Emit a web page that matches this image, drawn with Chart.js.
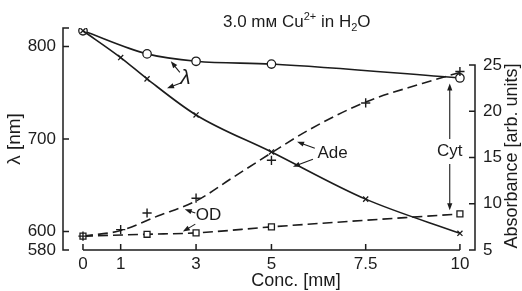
<!DOCTYPE html>
<html><head><meta charset="utf-8">
<script src="https://cdn.jsdelivr.net/npm/chart.js@4"></script>
<style>html,body{margin:0;padding:0;background:#fff}#wrap{width:522px;height:291px}</style>
</head><body><div id="wrap"><canvas id="c" width="522" height="291"></canvas></div>
<script>
// ---- data ----
const concCircle   = [0, 1.7, 3, 5, 10];
const lambdaCircle = [817, 792, 784, 781, 766];
const concCross    = [0, 1, 1.7, 3, 5, 7.5, 10];
const lambdaCross  = [817, 788, 765, 726, 686, 635, 598];
const concPlus     = [0, 1, 1.7, 3, 5, 7.5, 10];
const absPlus      = [6.5, 7.2, 9.0, 10.6, 14.7, 20.9, 24.3];
const concAdeCurve = [0, 1, 2, 3, 4, 5, 6, 7.5, 9, 10];
const absAdeCurve  = [6.5, 7.1, 8.7, 10.3, 12.9, 15.5, 18.0, 21.0, 23.0, 24.2];
const concSquare   = [0, 1.7, 3, 5, 10];
const absSquare    = [6.5, 6.7, 6.85, 7.5, 8.9];
const xTicks       = [0, 1, 3, 5, 7.5, 10];
const xTickLabels  = ['0', '1', '3', '5', '7.5', '10'];
const yTicks       = [580, 600, 700, 800];
const yTickLabels  = ['580', '600', '700', '800'];
const y2Ticks      = [5, 10, 15, 20, 25];
const y2TickLabels = ['5', '10', '15', '20', '25'];

const INK = '#1c1c1c';
const FONT = "'Liberation Sans', Arial, sans-serif";
const pts = (xs, ys) => xs.map((x, i) => ({x, y: ys[i]}));

// annotation placement in data units (x: conc, y: lambda axis)
const notes = {
  lambdaLabel: {x: 2.72, y: 766},
  lambdaArrows: [[2.57, 772, 2.33, 784], [2.63, 761, 2.23, 755]],
  odLabel: {x: 3.33, y: 617},
  odArrows: [[2.98, 620, 2.70, 624], [2.98, 608, 2.65, 600]],
  adeLabel: {x: 6.62, y: 685},
  adeArrows: [[6.15, 690, 5.68, 697], [6.10, 678, 5.57, 670]],
  cytLabel: {x: 9.73, y: 687},
  cytArrows: [[9.73, 700, 9.73, 760], [9.73, 673, 9.73, 623]]
};

function arrow(ctx, x1, y1, x2, y2) {
  const a = Math.atan2(y2 - y1, x2 - x1), L = 7, W = 2.6;
  ctx.beginPath(); ctx.moveTo(x1, y1); ctx.lineTo(x2 - Math.cos(a) * L * 0.6, y2 - Math.sin(a) * L * 0.6); ctx.stroke();
  ctx.beginPath();
  ctx.moveTo(x2, y2);
  ctx.lineTo(x2 - Math.cos(a) * L + Math.sin(a) * W, y2 - Math.sin(a) * L - Math.cos(a) * W);
  ctx.lineTo(x2 - Math.cos(a) * L - Math.sin(a) * W, y2 - Math.sin(a) * L + Math.cos(a) * W);
  ctx.closePath(); ctx.fill();
}

function richText(ctx, x, y, segs) {
  let cx = x;
  ctx.textAlign = 'left'; ctx.textBaseline = 'alphabetic';
  segs.forEach(s => {
    ctx.font = s.size + 'px ' + FONT;
    ctx.fillText(s.t, cx, y + (s.dy || 0));
    cx += ctx.measureText(s.t).width;
  });
}

const decor = {
  id: 'decor',
  beforeDatasetsDraw(chart) {
    const {ctx, scales: {x, y, y2}} = chart;
    ctx.save();
    ctx.strokeStyle = INK; ctx.lineWidth = 1.5; ctx.lineCap = 'butt';
    // left axis (bracket)
    const lx = chart.chartArea.left;
    ctx.beginPath();
    ctx.moveTo(lx + 6, y.getPixelForValue(820)); ctx.lineTo(lx, y.getPixelForValue(820));
    ctx.lineTo(lx, y.getPixelForValue(580)); ctx.lineTo(lx + 6, y.getPixelForValue(580));
    [600, 700, 800].forEach(v => { const py = y.getPixelForValue(v); ctx.moveTo(lx, py); ctx.lineTo(lx + 6, py); });
    ctx.stroke();
    // right axis
    const rx = chart.chartArea.right;
    ctx.beginPath();
    ctx.moveTo(rx - 6, y2.getPixelForValue(25)); ctx.lineTo(rx, y2.getPixelForValue(25));
    ctx.lineTo(rx, y2.getPixelForValue(5)); ctx.lineTo(rx - 6, y2.getPixelForValue(5));
    [10, 15, 20].forEach(v => { const py = y2.getPixelForValue(v); ctx.moveTo(rx, py); ctx.lineTo(rx - 6, py); });
    ctx.stroke();
    // x axis
    const by = chart.chartArea.bottom;
    ctx.beginPath();
    ctx.moveTo(x.getPixelForValue(0), by); ctx.lineTo(x.getPixelForValue(10), by);
    xTicks.forEach(v => { const px = x.getPixelForValue(v); ctx.moveTo(px, by); ctx.lineTo(px, by - 6); });
    ctx.stroke();
    ctx.restore();
  },
  afterDraw(chart) {
    const {ctx, scales: {x, y}} = chart;
    const P = (cx, cy) => [x.getPixelForValue(cx), y.getPixelForValue(cy)];
    ctx.save();
    ctx.fillStyle = INK; ctx.strokeStyle = INK; ctx.lineWidth = 1.1;
    // title
    richText(ctx, 223, 27, [
      {t: '3.0 mм Cu', size: 17}, {t: '2+', size: 11, dy: -7},
      {t: ' in H', size: 17}, {t: '2', size: 11, dy: 4}, {t: 'O', size: 17}
    ]);
    // annotations
    ctx.textAlign = 'center'; ctx.textBaseline = 'middle';
    ctx.font = 'italic 21px ' + FONT;
    let p = P(notes.lambdaLabel.x, notes.lambdaLabel.y); ctx.fillText('λ', p[0], p[1]);
    ctx.font = '17px ' + FONT;
    p = P(notes.odLabel.x, notes.odLabel.y); ctx.fillText('OD', p[0], p[1]);
    p = P(notes.adeLabel.x, notes.adeLabel.y); ctx.fillText('Ade', p[0], p[1]);
    p = P(notes.cytLabel.x, notes.cytLabel.y); ctx.fillText('Cyt', p[0], p[1]);
    [].concat(notes.lambdaArrows, notes.odArrows, notes.adeArrows, notes.cytArrows).forEach(a => {
      const s = P(a[0], a[1]), e = P(a[2], a[3]);
      arrow(ctx, s[0], s[1], e[0], e[1]);
    });
    // axis titles
    ctx.font = '18px ' + FONT;
    ctx.fillText('Conc. [mм]', 296, 281);
    ctx.save(); ctx.translate(15, 139); ctx.rotate(-Math.PI / 2);
    ctx.font = '19px ' + FONT; ctx.fillText('λ [nm]', 0, 0); ctx.restore();
    ctx.save(); ctx.translate(512, 156); ctx.rotate(-Math.PI / 2);
    ctx.font = '18px ' + FONT; ctx.fillText('Absorbance [arb. units]', 0, 0); ctx.restore();
    ctx.restore();
  }
};

const lineBase = {borderColor: INK, borderWidth: 1.6, cubicInterpolationMode: 'monotone', showLine: true,
  pointBorderColor: INK, pointBackgroundColor: '#fff', pointBorderWidth: 1.3};

new Chart(document.getElementById('c'), {
  type: 'scatter',
  data: {
    datasets: [
      Object.assign({}, lineBase, {label: 'λ (o)', data: pts(concCircle, lambdaCircle), yAxisID: 'y',
        pointStyle: 'circle', pointRadius: 4.2, order: 3}),
      Object.assign({}, lineBase, {label: 'λ (x)', data: pts(concCross, lambdaCross), yAxisID: 'y',
        pointStyle: 'crossRot', pointRadius: 3.6, order: 2}),
      Object.assign({}, lineBase, {label: 'Ade curve', data: pts(concAdeCurve, absAdeCurve), yAxisID: 'y2',
        pointRadius: 0, borderDash: [10, 5], order: 5}),
      Object.assign({}, lineBase, {label: 'OD', data: pts(concSquare, absSquare), yAxisID: 'y2',
        pointStyle: 'rect', pointRadius: 4.2, borderDash: [10, 5], order: 4}),
      Object.assign({}, lineBase, {label: 'Ade', data: pts(concPlus, absPlus), yAxisID: 'y2',
        showLine: false, pointStyle: 'cross', pointRadius: 4.6, pointBorderWidth: 1.4, order: 1})
    ]
  },
  options: {
    responsive: false, animation: false, events: [],
    layout: {padding: {top: 28, left: 0, right: 0, bottom: 0}},
    plugins: {legend: {display: false}, tooltip: {enabled: false}, title: {display: false}},
    scales: {
      x: {type: 'linear', position: 'bottom', min: -0.53, max: 10.40,
        grid: {display: false, drawTicks: false}, border: {display: false},
        afterBuildTicks: s => { s.ticks = xTicks.map(v => ({value: v})); },
        afterFit: s => { s.height = 41; },
        ticks: {color: INK, padding: 4, font: {family: FONT, size: 17}, maxRotation: 0, autoSkip: false,
          callback: (v, i) => xTickLabels[i]}},
      y: {type: 'linear', position: 'left', min: 580, max: 820,
        grid: {display: false, drawTicks: false}, border: {display: false},
        afterBuildTicks: s => { s.ticks = yTicks.map(v => ({value: v})); },
        afterFit: s => { s.width = 63; },
        ticks: {color: INK, padding: 7, font: {family: FONT, size: 17}, autoSkip: false,
          callback: (v, i) => yTickLabels[i]}},
      y2: {type: 'linear', position: 'right', min: 5, max: 29,
        grid: {display: false, drawTicks: false}, border: {display: false},
        afterBuildTicks: s => { s.ticks = y2Ticks.map(v => ({value: v})); },
        afterFit: s => { s.width = 47; },
        ticks: {color: INK, padding: 8, font: {family: FONT, size: 17}, autoSkip: false,
          callback: (v, i) => y2TickLabels[i]}}
    }
  },
  plugins: [decor]
});
</script></body></html>
